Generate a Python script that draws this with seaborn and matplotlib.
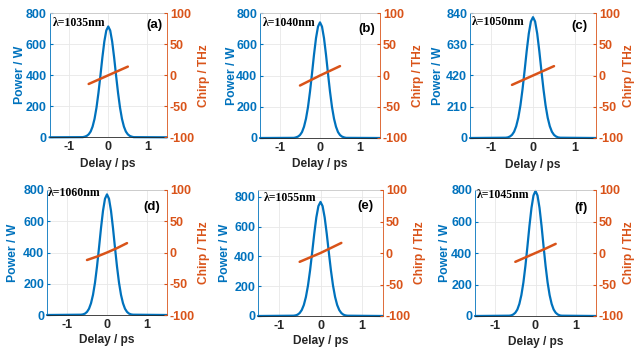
import matplotlib
matplotlib.use("Agg")
import matplotlib.pyplot as plt
import seaborn as sns

# ---------------- data ----------------
delay = [-1.5, -0.65, -0.6, -0.55, -0.5, -0.45, -0.4, -0.35, -0.3, -0.25, -0.2, -0.15, -0.1, -0.05,
         0, 0.05, 0.1, 0.15, 0.2, 0.25, 0.3, 0.35, 0.4, 0.45, 0.5, 0.55, 0.6, 0.65, 1.5]

power_a = [0, 1, 4, 9, 19, 37, 69, 119, 192, 287, 398, 515, 618, 689, 715,
           689, 618, 515, 398, 287, 192, 119, 69, 37, 19, 9, 4, 1, 0]
power_b = [0, 1, 4, 9, 19, 38, 72, 124, 198, 297, 412, 533, 639, 713, 740,
           713, 639, 533, 412, 297, 198, 124, 72, 38, 19, 9, 4, 1, 0]
power_c = [0, 2, 4, 10, 21, 42, 79, 136, 218, 326, 452, 585, 702, 783, 812,
           783, 702, 585, 452, 326, 218, 136, 79, 42, 21, 10, 4, 2, 0]
power_d = [0, 2, 4, 9, 20, 40, 75, 129, 207, 310, 430, 556, 667, 744, 772,
           744, 667, 556, 430, 310, 207, 129, 75, 40, 20, 9, 4, 2, 0]
power_e = [0, 2, 4, 9, 20, 40, 74, 128, 205, 307, 427, 552, 662, 738, 766,
           738, 662, 552, 427, 307, 205, 128, 74, 40, 20, 9, 4, 2, 0]
power_f = [0, 2, 4, 10, 21, 41, 77, 133, 213, 318, 442, 572, 686, 765, 794,
           765, 686, 572, 442, 318, 213, 133, 77, 41, 21, 10, 4, 2, 0]

chirp_delay = [-0.5, -0.25, 0, 0.25, 0.5]
chirp_a = [-14, -7, 0, 7, 14]
chirp_b = [-16, -8, 0, 7.5, 15]
chirp_c = [-15, -7.5, 0, 7.5, 15]
chirp_d = [-12, -6.5, 0, 7, 15]
chirp_e = [-14, -7, 0, 8, 16]
chirp_f = [-14, -7, 0, 7, 14.5]

wavelengths = ["λ=1035nm", "λ=1040nm", "λ=1050nm", "λ=1060nm", "λ=1055nm", "λ=1045nm"]
panel_tags = ["(a)", "(b)", "(c)", "(d)", "(e)", "(f)"]
power_ticks = [[0, 200, 400, 600, 800], [0, 200, 400, 600, 800], [0, 210, 420, 630, 840],
               [0, 200, 400, 600, 800], [0, 200, 400, 600, 800], [0, 200, 400, 600, 800]]
power_top = [800, 800, 840, 800, 846, 800]
chirp_ticks = [-100, -50, 0, 50, 100]
delay_ticks = [-1, 0, 1]

powers = [power_a, power_b, power_c, power_d, power_e, power_f]
chirps = [chirp_a, chirp_b, chirp_c, chirp_d, chirp_e, chirp_f]

# ---------------- layout (pixels: left, right, top, bottom) ----------------
W, H = 636, 352
boxes = [(49.5, 167, 13.3, 137.3), (260, 380, 13, 138), (470, 596, 13, 138),
         (47, 167, 190, 315), (258, 383, 190, 316), (475, 596, 190, 316)]
lam_pos = [(0.025, 0.924), (0.02, 0.92), (0.015, 0.93), (0.005, 0.975), (0.043, 0.94), (0.014, 0.96)]
tag_pos = [(0.894, 0.906), (0.89, 0.87), (0.87, 0.90), (0.87, 0.867), (0.856, 0.87), (0.88, 0.86)]
ylab_x = [-0.25, -0.236, -0.25, -0.286, -0.264, -0.248]
rlab_x = [1.318, 1.32, 1.26, 1.31, 1.296, 1.272]
xlab_y = [-0.215, -0.21, -0.216, -0.2, -0.2, -0.21]

BLUE = "#0072BD"
ORANGE = "#D95319"
DARK = "#262626"

sns.set_style("white")
plt.rcParams["font.family"] = ["Liberation Sans", "DejaVu Sans"]
plt.rcParams["font.weight"] = "bold"
plt.rcParams["axes.unicode_minus"] = False

fig = plt.figure(figsize=(W / 100, H / 100), dpi=100)

for i in range(6):
    l, r, t, b = boxes[i]
    ax = fig.add_axes([l / W, 1 - b / H, (r - l) / W, (b - t) / H])
    sns.lineplot(x=delay, y=powers[i], ax=ax, color=BLUE, linewidth=1.6)
    for ln in ax.lines:
        ln.set_clip_on(False)
    ax.set_xlim(-1.5, 1.5)
    ax.set_ylim(0, power_top[i])
    ax.set_xticks(delay_ticks)
    ax.set_yticks(power_ticks[i])
    ax.grid(True, color="#e8e8e8", linewidth=0.6)
    ax.set_axisbelow(True)
    ax.tick_params(axis="y", colors=BLUE, labelsize=9, direction="in", length=2.5, pad=2)
    ax.tick_params(axis="x", colors=DARK, labelsize=9, direction="in", length=2.5, pad=3)
    for lab in ax.get_xticklabels() + ax.get_yticklabels():
        lab.set_fontweight("bold")
    ax.spines["left"].set_color(BLUE)
    ax.spines["bottom"].set_color(DARK)
    ax.spines["top"].set_color("#c8c8c8")
    ax.spines["right"].set_visible(False)
    for s in ax.spines.values():
        s.set_linewidth(0.6)

    ax.set_xlabel("Delay / ps", fontsize=8.6, fontweight="bold", color=DARK)
    ax.xaxis.set_label_coords(0.5, xlab_y[i])
    ax.xaxis.label.set_va("center")
    ax.set_ylabel("Power / W", fontsize=8.8, fontweight="bold", color=BLUE)
    ax.yaxis.set_label_coords(ylab_x[i], 0.5)
    ax.yaxis.label.set_va("center")

    ax.text(lam_pos[i][0], lam_pos[i][1], wavelengths[i], transform=ax.transAxes,
            ha="left", va="center", fontsize=8.5, fontweight="bold",
            family=["Liberation Serif", "DejaVu Serif"], color="black")
    ax.text(tag_pos[i][0], tag_pos[i][1], panel_tags[i], transform=ax.transAxes,
            ha="center", va="center", fontsize=9.5, fontweight="bold", color="black")

    ax2 = ax.twinx()
    sns.lineplot(x=chirp_delay, y=chirps[i], ax=ax2, color=ORANGE, linewidth=1.8)
    ax2.set_ylim(-100, 100)
    ax2.set_yticks(chirp_ticks)
    ax2.set_xlim(-1.5, 1.5)
    ax2.tick_params(axis="y", colors=ORANGE, labelsize=9, direction="in", length=2.5, pad=2)
    for lab in ax2.get_yticklabels():
        lab.set_fontweight("bold")
    for side in ["left", "top", "bottom"]:
        ax2.spines[side].set_visible(False)
    ax2.spines["right"].set_color(ORANGE)
    ax2.spines["right"].set_linewidth(0.6)
    ax2.set_ylabel("Chirp / THz", fontsize=8.6, fontweight="bold", color=ORANGE)
    ax2.yaxis.set_label_coords(rlab_x[i], 0.5)
    ax2.yaxis.label.set_va("center")
    ax2.set_xlabel("")

fig.savefig("out.png", dpi=100)
